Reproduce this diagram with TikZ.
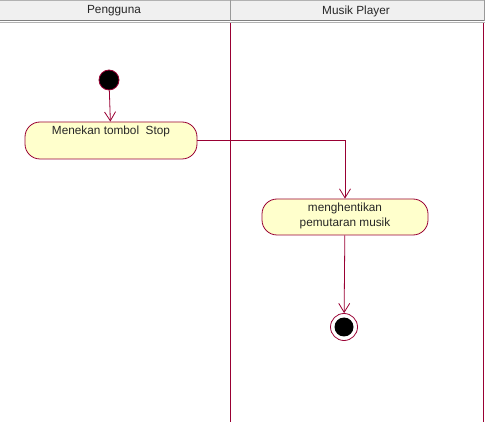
\documentclass[tikz,border=0pt]{standalone}
\usepackage{fontspec}
\setmainfont{Liberation Sans}
\usetikzlibrary{arrows.meta}
\definecolor{uml}{HTML}{990033}
\definecolor{actfill}{HTML}{FFFFCC}
\definecolor{hdr}{HTML}{F0F0F0}
\tikzset{
  act/.style={draw=uml, fill=actfill, rounded corners=15pt, line width=0.8pt, inner sep=0pt},
  txt/.style={font=\fontsize{11.8}{14.5}\selectfont, align=center, inner sep=0pt, text=black!85},
  flow/.style={draw=uml, line width=0.8pt, -{Straight Barb[length=9pt,width=11pt,line width=0.8pt]}},
  lane/.style={draw=uml, line width=0.9pt},
}
\begin{document}
\begin{tikzpicture}[x=1pt,y=-1pt]
\useasboundingbox (0,0) rectangle (485,422);
% header
\fill[hdr] (0,0) rectangle (485,20);
\draw[gray!60, line width=0.6pt] (0,0.3) -- (485,0.3);
\draw[gray, line width=1pt] (0,20.5) -- (485,20.5);
\draw[gray!60, line width=0.8pt] (0,22.3) -- (485,22.3);
\draw[gray!80, line width=1pt] (230,0) -- (230,21);
\draw[gray!80, line width=1pt] (484,0) -- (484,21);
\node[txt] (h1) at (114,11) {Pengguna};
\node[txt] (h2) at (356,11) {Musik Player};
% lanes
\draw[lane] (230,23) -- (230,422);
\draw[lane] (483.5,23) -- (483.5,422);
% start
\node[circle, draw=uml, fill=black, minimum size=20pt, inner sep=0pt, line width=0.8pt] (s) at (109,80) {};
% action 1
\node[act, minimum width=172pt, minimum height=37pt] (a1) at (111,140.5) {};
\node[txt] (a1t) at (111,131) {Menekan tombol\ \ Stop};
% action 2
\node[act, minimum width=166pt, minimum height=36pt] (a2) at (345,217) {};
\node[txt] (a2t) at (345,216) {menghentikan\\pemutaran musik};
% end
\node[circle, draw=uml, fill=white, minimum size=27pt, inner sep=0pt, line width=0.8pt] (e) at (344,327) {};
\node[circle, fill=black, minimum size=19pt, inner sep=0pt] (ei) at (344,327) {};
% flows
\draw[flow] (s) -- (a1);
\draw[flow] (a1.east) -| (a2.north);
\draw[flow] (a2) -- (e);
\end{tikzpicture}
\end{document}
